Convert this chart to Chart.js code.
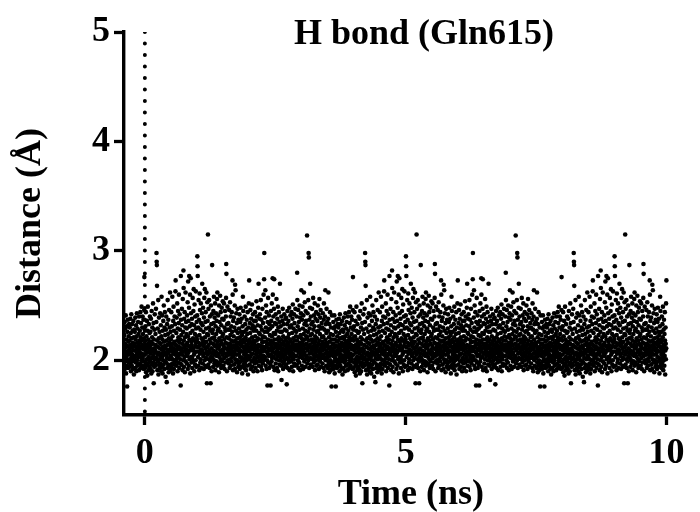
<!DOCTYPE html>
<html>
<head>
<meta charset="utf-8">
<script src="https://cdn.jsdelivr.net/npm/chart.js@4.4.1/dist/chart.umd.min.js"></script>
<style>
html,body{margin:0;padding:0;background:#fff;}
#wrap{width:700px;height:512px;}
</style>
</head>
<body>
<div id="wrap"><canvas id="c" width="700" height="512"></canvas></div>
<script>
// ---- chart text ----
const chartTitle = 'H bond (Gln615)';
const xAxisTitle = 'Time (ns)';
const yAxisTitle = 'Distance (Å)';

// ---- tick labels ----
const xTicks = [0, 5, 10];
const yTicks = [2, 3, 4, 5];

// ---- time sampling (ns) ----
const timeStart = -0.4;
const timeEnd = 10.0;
const segmentLength = 4.0;   // the trace repeats every 4 ns in the picture
const markerTime = 0;        // dotted vertical line

// ---- distance values (Å) for one 4 ns segment (30 per 0.1 ns) ----
const distanceSegment = [
2.05,1.93,2.18,2.31,1.98,2.09,2.44,1.89,2.12,2.22,2.01,1.95,2.36,2.14,1.86,2.07,2.27,2.49,1.97,2.11,2.19,2.03,1.91,2.33,2.16,2.00,1.94,2.25,2.08,2.40,
2.13,1.99,2.26,1.92,2.06,2.38,2.17,1.88,2.02,2.45,2.10,1.96,2.21,2.30,1.90,2.08,2.15,2.52,1.98,2.04,2.34,1.79,2.19,2.11,1.94,2.28,2.01,2.42,2.07,1.97,
2.09,2.24,1.95,2.14,2.47,2.02,2.35,2.98,2.90,2.87,2.68,2.18,1.91,2.05,2.29,1.99,2.12,2.55,1.87,2.20,2.07,2.39,1.96,2.16,2.01,2.26,1.93,2.11,2.43,2.04,
1.97,2.15,2.32,2.06,1.90,2.22,2.58,2.10,1.94,2.41,2.03,2.19,1.88,2.27,2.12,2.00,2.36,2.08,1.96,2.50,2.17,2.05,1.92,2.30,2.13,2.44,1.99,2.23,2.07,1.85,
2.11,2.28,1.98,2.40,2.05,2.18,1.80,2.02,2.33,2.14,1.93,2.55,2.09,2.24,1.96,2.37,2.07,1.89,2.20,2.46,2.01,2.16,1.95,2.30,2.10,2.62,2.04,1.91,2.26,2.13,
2.19,2.03,2.44,1.94,2.12,2.31,2.08,1.97,2.58,2.22,2.01,2.15,1.88,2.36,2.06,2.49,2.11,1.92,2.27,2.00,2.17,2.40,1.96,2.09,2.33,2.05,2.63,2.73,2.14,1.99,
2.07,2.25,1.95,2.39,2.13,2.02,2.52,2.18,1.90,2.29,2.10,2.45,1.98,2.21,2.04,2.34,2.60,2.12,1.93,2.16,2.42,2.06,2.28,1.97,2.19,2.01,1.77,2.77,2.37,2.09,
2.23,1.96,2.11,2.47,2.05,2.32,2.15,1.91,2.56,2.08,2.26,2.00,2.82,2.66,2.18,1.94,2.38,2.12,2.03,2.44,1.89,2.21,2.09,2.30,2.62,1.99,2.14,2.35,2.06,2.24,
2.10,2.29,1.97,2.41,2.16,2.04,2.53,1.92,2.22,2.72,2.07,2.36,2.13,1.95,2.48,2.77,2.19,2.01,2.31,2.09,2.60,1.88,2.25,2.12,2.75,2.43,2.03,2.17,1.98,2.33,
2.14,2.38,2.02,1.93,2.27,2.57,2.09,2.20,1.99,2.45,2.11,2.65,2.05,2.32,1.90,2.18,2.51,2.07,2.24,1.96,2.40,2.13,2.00,2.63,2.16,2.29,1.94,2.08,2.35,2.22,
2.19,2.41,2.95,2.86,2.77,2.12,2.03,2.30,1.95,2.55,2.16,2.08,2.37,1.91,2.23,2.61,2.06,2.46,2.14,1.98,2.28,2.01,2.52,2.10,2.34,1.93,2.20,2.07,2.43,2.15,
2.70,2.09,2.32,1.97,2.18,2.48,2.04,2.26,2.13,1.92,2.39,2.06,2.57,2.15,2.00,2.65,2.21,1.95,2.35,2.11,2.44,2.02,2.29,2.17,2.62,2.08,1.94,1.79,2.24,2.53,
2.12,2.36,2.05,3.15,2.23,1.96,2.47,2.14,2.01,2.30,2.55,2.09,1.93,2.19,2.40,2.07,2.27,1.99,1.79,2.16,2.50,2.03,2.33,2.11,1.90,2.42,2.20,2.87,2.06,2.25,
2.02,2.28,2.15,1.94,2.45,2.09,2.34,2.58,2.00,2.21,1.97,2.39,2.13,2.05,2.52,2.18,1.91,2.31,2.08,2.43,2.24,1.99,2.14,2.36,2.04,2.56,1.95,2.62,2.11,2.27,
2.17,1.98,2.41,2.06,2.29,2.12,1.89,2.50,2.20,2.03,2.35,2.14,1.96,2.59,2.09,2.26,2.44,2.01,2.18,1.93,2.32,2.07,2.48,2.15,1.99,2.38,2.22,2.05,2.54,2.10,
2.24,2.08,1.95,2.37,2.13,2.52,2.02,2.19,2.30,1.92,2.11,2.45,2.06,2.27,1.98,2.16,2.40,2.57,2.88,2.79,2.04,2.21,1.90,2.33,2.10,2.49,2.15,2.00,2.28,2.07,
2.12,2.34,1.97,2.20,2.05,2.46,2.15,1.93,2.28,2.09,2.53,2.01,2.23,2.40,1.95,2.14,2.06,2.31,2.18,1.99,2.44,2.11,2.26,2.03,2.73,2.60,2.08,1.91,2.36,2.17,
2.04,2.22,2.39,1.96,2.13,2.30,2.07,2.50,1.92,2.69,2.18,2.01,2.64,2.10,2.27,1.98,2.43,2.15,2.05,2.34,1.89,2.20,2.12,2.47,2.00,2.25,2.09,1.94,2.37,2.16,
2.11,1.97,2.29,2.06,2.42,2.15,1.92,2.21,2.03,2.35,2.09,2.48,1.99,2.18,2.26,1.94,2.13,2.38,2.02,2.23,1.88,2.08,2.31,2.16,2.58,2.00,2.45,2.12,1.96,2.19,
2.26,2.05,1.93,2.17,2.40,2.10,1.98,2.33,2.02,2.21,2.49,2.07,1.91,2.14,2.28,2.00,2.37,2.12,1.95,2.24,2.04,2.44,2.18,1.87,2.09,2.30,2.15,2.01,2.52,2.11,
2.73,2.08,2.19,1.96,2.34,2.03,2.25,2.46,2.12,1.92,2.16,2.38,2.05,2.29,1.99,2.10,2.51,2.21,1.94,2.14,2.32,2.06,2.42,2.00,2.18,1.90,2.27,2.11,2.36,2.02,
2.15,2.30,1.97,2.09,2.44,2.22,2.01,1.93,2.36,2.13,2.05,2.27,2.54,1.98,2.18,2.40,2.07,2.11,1.90,2.32,2.20,2.03,2.48,2.14,2.70,2.08,1.95,2.25,2.00,2.38,
2.07,2.24,2.42,1.99,2.13,2.31,2.05,2.55,1.94,2.19,2.10,2.37,2.02,2.28,1.91,2.16,2.47,2.08,2.22,1.97,2.34,2.12,2.04,2.60,2.17,2.00,2.74,2.98,2.26,2.09,
2.21,2.03,2.39,2.64,2.12,1.95,2.30,2.50,2.08,2.17,1.92,2.44,2.14,2.00,2.26,1.77,2.35,2.06,2.19,2.57,1.98,2.11,2.28,2.04,2.41,1.93,2.15,2.33,2.09,2.23,
2.10,2.29,1.96,1.77,2.18,2.45,2.05,2.36,2.13,1.99,2.52,2.22,2.02,2.31,2.08,2.75,2.60,2.16,1.94,2.40,2.11,2.25,2.03,2.47,2.74,2.19,1.91,2.07,2.34,2.14,
2.24,2.06,2.42,1.97,2.15,2.33,2.01,2.56,2.12,2.27,1.93,2.09,2.38,2.19,2.04,2.49,2.14,1.90,2.30,2.07,2.21,2.44,2.00,2.17,2.35,1.96,2.11,2.70,2.26,2.05,
2.13,2.31,2.02,2.19,1.95,2.40,1.82,2.08,2.26,2.15,1.99,2.36,2.05,2.47,2.11,1.92,2.22,2.03,2.33,2.17,1.97,2.09,2.42,2.14,2.00,2.28,2.06,1.94,2.20,2.38,
2.05,2.18,2.39,1.96,2.11,2.27,1.78,2.14,2.02,2.33,2.45,2.08,1.93,2.21,2.16,2.01,2.36,2.10,1.98,2.24,2.48,2.06,2.13,1.91,2.30,2.19,2.04,2.41,2.09,2.00,
2.17,1.99,2.32,2.08,2.44,2.12,1.94,2.25,2.03,2.38,2.15,2.51,2.06,1.90,2.20,2.29,2.01,2.13,2.42,1.97,2.10,2.34,2.18,2.04,1.95,2.27,2.47,2.09,2.14,2.22,
2.11,2.26,2.04,2.40,1.96,2.18,2.80,2.55,2.09,2.31,2.00,2.14,2.46,1.93,2.21,2.07,2.35,2.12,1.98,2.28,2.50,2.03,2.16,2.39,1.91,2.10,2.23,2.05,2.43,2.15,
2.64,2.08,2.20,1.95,2.37,2.13,2.02,2.49,2.17,2.29,1.92,2.10,2.41,2.05,2.24,2.62,2.14,1.99,2.33,2.07,2.53,2.19,2.01,2.27,1.94,2.45,2.11,2.36,2.04,2.22,
2.15,2.32,2.03,3.14,2.21,1.97,2.43,2.09,2.26,2.12,2.55,2.00,2.98,2.94,2.18,1.93,2.37,2.06,2.29,2.14,2.48,2.70,2.02,2.23,1.96,2.40,2.11,2.07,2.33,2.19,
2.08,2.24,2.47,2.01,2.16,1.94,2.35,2.12,2.57,2.05,2.28,2.19,1.98,2.41,2.10,2.03,2.31,2.52,2.14,1.91,2.22,2.07,2.38,2.17,2.00,2.44,2.11,1.95,2.26,2.13,
2.20,2.04,2.36,2.13,1.96,2.50,2.09,2.27,2.01,2.42,2.15,1.92,2.31,2.07,2.56,2.18,2.03,2.24,1.99,2.39,2.11,2.46,2.06,1.94,2.29,2.14,2.02,2.34,2.10,2.21,
2.09,2.30,1.97,2.17,2.43,2.05,2.22,2.12,1.93,2.37,2.52,2.02,2.15,2.28,1.90,2.10,2.40,2.06,2.64,2.19,2.00,2.33,2.13,1.95,2.25,2.47,2.08,2.16,2.03,2.35,
2.02,2.14,1.93,2.27,2.06,2.38,2.62,1.98,2.11,2.21,1.89,2.33,2.04,2.17,1.95,2.44,2.08,2.00,2.24,1.91,2.12,2.30,2.05,1.97,1.76,2.19,2.41,2.09,1.94,2.15,
2.10,1.96,2.23,2.04,2.35,1.92,2.15,2.07,2.29,1.99,2.41,2.12,1.88,2.19,2.02,2.31,2.08,1.95,1.76,2.26,2.13,2.00,2.37,2.05,1.93,2.17,2.09,2.22,1.98,2.33,
2.06,2.18,1.94,2.30,2.11,2.01,2.38,1.97,2.14,2.25,1.90,2.08,2.42,2.03,2.20,1.95,2.33,2.12,2.05,1.99,2.27,2.16,1.92,2.09,2.36,2.02,2.21,1.87,2.13,2.28,
2.15,2.01,2.26,1.93,2.09,2.39,2.04,2.19,1.98,2.32,2.12,1.90,2.22,2.07,2.43,2.00,2.16,1.95,2.29,2.10,2.03,2.35,1.96,2.14,2.24,2.06,1.91,2.40,2.11,2.18,
2.08,2.27,1.97,2.16,2.44,2.03,2.21,1.93,2.34,2.12,2.00,2.49,2.18,2.06,1.95,2.30,2.14,2.40,2.02,2.24,1.99,2.10,2.37,2.05,1.92,2.20,2.46,2.76,2.13,2.28
];

// ---- build the scatter table from the segment ----
const step = segmentLength / distanceSegment.length;
const nSamples = Math.round((timeEnd - timeStart) / step);
const tracePoints = [];
for (let k = 0; k <= nSamples; k++) {
  const t = timeStart + k * step;
  const phase = ((t % segmentLength) + segmentLength) % segmentLength;
  const idx = Math.round(phase / step) % distanceSegment.length;
  tracePoints.push({ x: t, y: distanceSegment[idx] });
}

const FONT = '"Liberation Serif", "Times New Roman", serif';
const tickFont = { family: FONT, weight: 'bold', size: 36 };

const titlePlugin = {
  id: 'innerTitle',
  afterDraw(chart) {
    const { ctx, chartArea } = chart;
    ctx.save();
    ctx.font = 'bold 36px ' + FONT;
    ctx.fillStyle = '#000';
    ctx.textAlign = 'center';
    ctx.textBaseline = 'alphabetic';
    ctx.fillText(chartTitle, chartArea.left + 300, chartArea.top + 12);
    ctx.restore();
  }
};

new Chart(document.getElementById('c'), {
  type: 'scatter',
  data: {
    datasets: [
      {
        label: 'distance',
        data: tracePoints,
        pointRadius: 2.3,
        pointHoverRadius: 2.3,
        pointBorderWidth: 0,
        backgroundColor: '#000',
        borderColor: '#000',
        order: 2
      },
      {
        type: 'line',
        label: 't0',
        data: [{ x: markerTime, y: 5 }, { x: markerTime, y: 1.5 }],
        borderColor: '#000',
        borderWidth: 4,
        borderDash: [0, 11.5],
        borderCapStyle: 'round',
        pointRadius: 0,
        fill: false,
        order: 1
      }
    ]
  },
  options: {
    responsive: false,
    animation: false,
    devicePixelRatio: 1,
    events: [],
    layout: { padding: { top: 32, right: 0, left: 0, bottom: 0 } },
    plugins: { legend: { display: false }, tooltip: { enabled: false } },
    scales: {
      x: {
        type: 'linear',
        min: -0.4,
        max: 10.6,
        afterBuildTicks: s => { s.ticks = xTicks.map(v => ({ value: v })); },
        afterFit: s => { s.height = 97; },
        grid: { drawOnChartArea: false, drawTicks: true, tickLength: 10, tickWidth: 3.3, tickColor: '#000' },
        border: { display: true, color: '#000', width: 3.4 },
        ticks: { color: '#000', font: tickFont, padding: 7, maxRotation: 0, autoSkip: false },
        title: { display: true, text: xAxisTitle, color: '#000', font: tickFont, padding: { top: 0, bottom: -4 } }
      },
      y: {
        type: 'linear',
        min: 1.5,
        max: 5,
        afterBuildTicks: s => { s.ticks = yTicks.map(v => ({ value: v })); },
        afterFit: s => { s.width = 124; },
        grid: { drawOnChartArea: false, drawTicks: true, tickLength: 10, tickWidth: 3.3, tickColor: '#000' },
        border: { display: true, color: '#000', width: 3.4 },
        ticks: { color: '#000', font: tickFont, padding: 4, autoSkip: false },
        title: { display: true, text: yAxisTitle, color: '#000', font: tickFont, padding: { top: 9, bottom: 0 } }
      }
    }
  },
  plugins: [titlePlugin]
});
</script>
</body>
</html>
